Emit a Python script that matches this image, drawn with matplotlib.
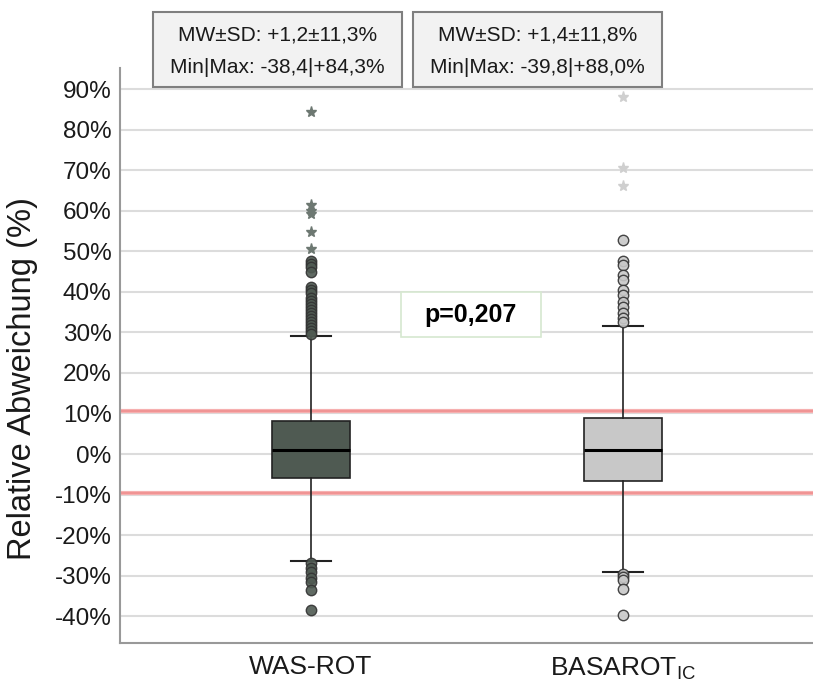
import matplotlib.pyplot as plt
from matplotlib.patches import Rectangle

plt.rcParams['font.family'] = ['Liberation Sans', 'DejaVu Sans']
plt.rcParams['mathtext.default'] = 'regular'

groups = ['WAS-ROT', 'BASAROT$_{IC}$']
stat_texts = ['MW\u00b1SD: +1,2\u00b111,3%\nMin|Max: -38,4|+84,3%',
              'MW\u00b1SD: +1,4\u00b111,8%\nMin|Max: -39,8|+88,0%']
q1 = [-5.9, -6.6]
med = [1.0, 1.0]
q3 = [8.1, 8.8]
whislo = [-26.4, -29.1]
whishi = [29.0, 31.5]
fliers_was = [47.5, 46.8, 46.0, 44.8, 41.2, 40.5, 39.6, 38.5, 37.8, 37.0, 36.2,
              35.5, 34.8, 34.0, 33.2, 32.5, 31.8, 31.0, 30.3, 29.6,
              -27.0, -28.0, -29.0, -30.5, -31.5, -33.5, -38.4]
fliers_bas = [52.8, 47.6, 46.6, 44.1, 42.9, 40.4, 39.2, 37.5, 36.3, 34.7, 33.5, 32.6,
              -29.6, -30.3, -31.1, -33.4, -39.8]
extremes_was = [84.3, 61.5, 60.0, 59.3, 54.8, 50.5]
extremes_bas = [88.0, 70.5, 66.0]
tol_limits = [10.5, -9.5]
p_text = 'p=0,207'

box_colors = ['#4f5a52', '#c8c8c8']
star_colors = ['#6d7872', '#cfcfcf']

fig = plt.figure(figsize=(8.13, 6.91), dpi=100)
ax = fig.add_axes([0.1476, 0.0695, 0.8524, 0.8321])

for y in range(-40, 100, 10):
    ax.axhline(y, color='#dcdcdc', lw=1.5, zorder=0)
for y in tol_limits:
    ax.axhline(y, color='#f6b0b0', lw=3.0, zorder=1)
    ax.axhline(y, color='#ef8f8f', lw=1.2, zorder=1)

fliers = [fliers_was, fliers_bas]
extremes = [extremes_was, extremes_bas]
for i in range(2):
    st = dict(med=med[i], q1=q1[i], q3=q3[i], whislo=whislo[i], whishi=whishi[i],
              fliers=fliers[i])
    ax.bxp([st], positions=[i + 1], widths=0.25, capwidths=0.13, patch_artist=True,
           boxprops=dict(facecolor=box_colors[i], edgecolor='#222222', lw=1.2),
           medianprops=dict(color='black', lw=2.2),
           whiskerprops=dict(color='#222222', lw=1.2),
           capprops=dict(color='#222222', lw=1.5),
           flierprops=dict(marker='o', markersize=7.5, markerfacecolor=box_colors[i],
                           markeredgecolor='#333333', markeredgewidth=1.0, alpha=0.9),
           zorder=3)
    ax.plot([i + 1] * len(extremes[i]), extremes[i], ls='none', marker='*',
            markersize=8, color=star_colors[i], zorder=3)

ax.set_xlim(0.388, 2.609)
ax.set_ylim(-46.6, 95.2)
ax.set_yticks(range(-40, 100, 10))
ax.set_yticklabels([f'{v}%' for v in range(-40, 100, 10)], fontsize=17.5, color='#1a1a1a')
ax.set_xticks([1, 2])
ax.set_xticklabels(groups, fontsize=19, color='#1a1a1a')
ax.tick_params(axis='y', length=0, pad=6)
ax.tick_params(axis='x', length=0, pad=9)
ax.set_ylabel('Relative Abweichung (%)', fontsize=23.5, color='#1a1a1a')
ax.yaxis.set_label_coords(-0.118, 0.46)

for s in ['top', 'right']:
    ax.spines[s].set_visible(False)
for s in ['left', 'bottom']:
    ax.spines[s].set_color('#999999')
    ax.spines[s].set_linewidth(1.5)

# p-value box
ax.add_patch(Rectangle((1.288, 28.8), 0.449, 11.1, facecolor='white',
                       edgecolor='#d6e8d0', lw=1.2, zorder=5))
ax.text(1.513, 34.4, p_text, fontsize=18, fontweight='bold', ha='center', va='center',
        zorder=6)

# stat boxes above the plot
W, H = 813, 691
for x0, x1, txt in [(153, 402, stat_texts[0]), (413, 662, stat_texts[1])]:
    fig.patches.append(Rectangle((x0 / W, 1 - 87 / H), (x1 - x0) / W, 75 / H,
                                 transform=fig.transFigure, facecolor='#f2f2f2',
                                 edgecolor='#7f7f7f', lw=1.5, zorder=5))
    fig.text((x0 + x1) / 2 / W, 1 - 51 / H, txt, ha='center', va='center',
             fontsize=15, linespacing=1.9, color='#1a1a1a', zorder=6)

fig.savefig('out.png', dpi=100)
